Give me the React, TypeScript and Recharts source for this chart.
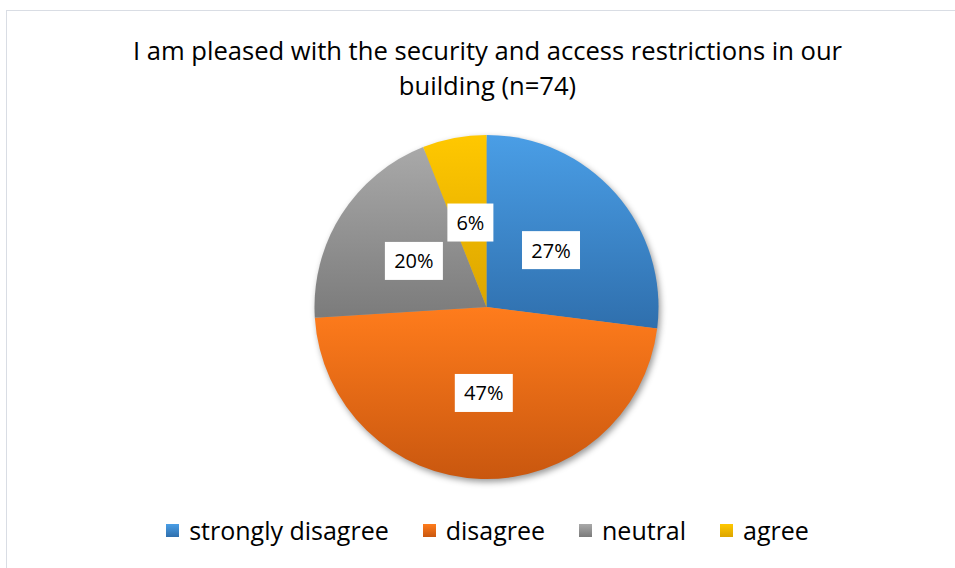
import { PieChart, Pie, Cell, Legend } from "recharts";

const categories = ["strongly disagree", "disagree", "neutral", "agree"];
const shares = [27, 47, 20, 6];
const gradientTops = ["#4a9ee6", "#ff7c1c", "#a9a9a9", "#ffc800"];
const gradientBottoms = ["#2f6fad", "#c9570f", "#7b7b7b", "#dca500"];

const data = categories.map((name, i) => ({ name, value: shares[i] }));

const FONT = "'Open Sans', sans-serif";
const RADIAN = Math.PI / 180;

type LabelProps = {
  cx?: number;
  cy?: number;
  midAngle?: number;
  outerRadius?: number;
  value?: number;
};

function BoxLabel({ cx = 0, cy = 0, midAngle = 0, outerRadius = 0, value = 0 }: LabelProps) {
  const r = outerRadius * 0.5;
  const x = cx + r * Math.cos(-midAngle * RADIAN);
  const y = cy + r * Math.sin(-midAngle * RADIAN);
  const text = `${value}%`;
  const w = text.length * 12 + 22;
  const h = 38;
  return (
    <g>
      <rect x={x - w / 2} y={y - h / 2} width={w} height={h} fill="#ffffff" />
      <text
        x={x}
        y={y}
        textAnchor="middle"
        dominantBaseline="central"
        fontFamily={FONT}
        fontSize={20}
        fill="#000000"
      >
        {text}
      </text>
    </g>
  );
}

function LegendContent() {
  return (
    <div
      style={{
        display: "flex",
        justifyContent: "center",
        alignItems: "center",
        fontFamily: FONT,
        fontSize: 25,
        color: "#000",
      }}
    >
      {categories.map((c, i) => (
        <div key={c} style={{ display: "flex", alignItems: "center", marginLeft: i === 0 ? 0 : 34 }}>
          <span
            style={{
              display: "inline-block",
              width: 13,
              height: 13,
              marginRight: 10,
              background: `linear-gradient(${gradientTops[i]}, ${gradientBottoms[i]})`,
            }}
          />
          <span>{c}</span>
        </div>
      ))}
    </div>
  );
}

export default function App() {
  return (
    <div style={{ position: "absolute", left: 0, top: 0, width: 955, height: 568, overflow: "hidden", background: "#fff" }}>
      <div
        style={{
          position: "absolute",
          left: 6,
          top: 10,
          width: 1000,
          height: 600,
          border: "1px solid #d9dde4",
        }}
      />
      <div
        style={{
          position: "absolute",
          left: 0,
          top: 33,
          width: 975,
          textAlign: "center",
          fontFamily: FONT,
          fontSize: 25.6,
          lineHeight: "35px",
          color: "#000",
        }}
      >
        I am pleased with the security and access restrictions in our
        <br />
        building (n=74)
      </div>
      <PieChart
        width={955}
        height={568}
        margin={{ top: 0, right: 0, bottom: 0, left: 0 }}
        style={{ position: "absolute", left: 0, top: 0 }}
      >
        <defs>
          {categories.map((c, i) => (
            <linearGradient key={c} id={`grad-${i}`} x1="0" y1="0" x2="0" y2="1">
              <stop offset="0%" stopColor={gradientTops[i]} />
              <stop offset="100%" stopColor={gradientBottoms[i]} />
            </linearGradient>
          ))}
          <filter id="pieShadow" x="-10%" y="-10%" width="120%" height="120%">
            <feGaussianBlur in="SourceAlpha" stdDeviation="3" />
            <feOffset dx="2" dy="3" result="blur" />
            <feFlood floodColor="#000" floodOpacity="0.4" />
            <feComposite in2="blur" operator="in" />
          </filter>
        </defs>
        <Pie
          data={data}
          dataKey="value"
          nameKey="name"
          cx={486.5}
          cy={307}
          outerRadius={172}
          startAngle={90}
          endAngle={-270}
          stroke="none"
          fill="#000"
          style={{ filter: "url(#pieShadow)" }}
          isAnimationActive={false}
          legendType="none"
        />
        <Pie
          data={data}
          dataKey="value"
          nameKey="name"
          cx={486.5}
          cy={307}
          outerRadius={172}
          startAngle={90}
          endAngle={-270}
          stroke="none"
          label={BoxLabel}
          labelLine={false}
          isAnimationActive={false}
        >
          {data.map((d, i) => (
            <Cell key={d.name} fill={`url(#grad-${i})`} />
          ))}
        </Pie>
        <Legend
          content={LegendContent}
          wrapperStyle={{ position: "absolute", left: 0, top: 513, width: 975 }}
        />
      </PieChart>
    </div>
  );
}
